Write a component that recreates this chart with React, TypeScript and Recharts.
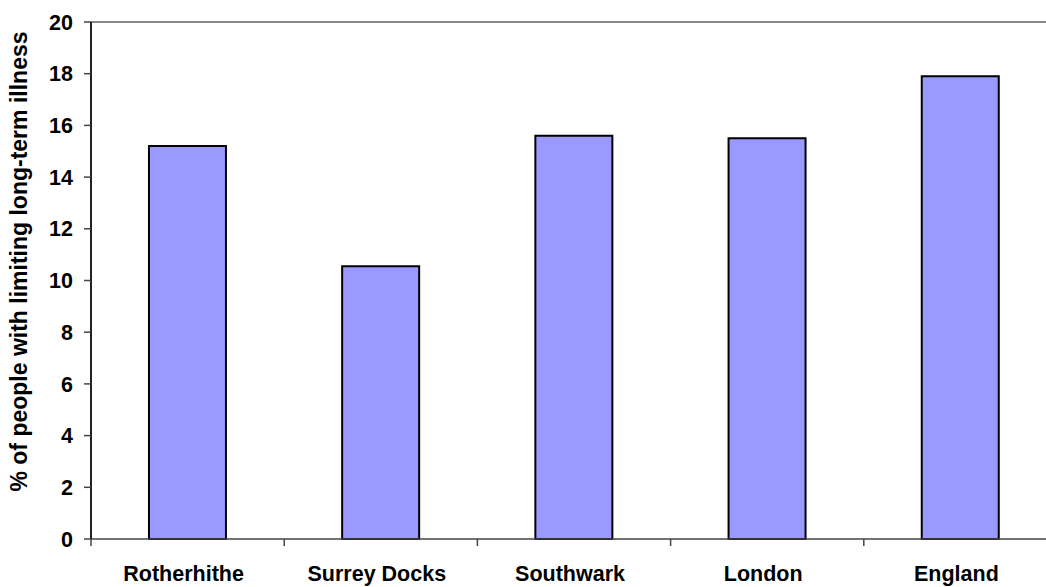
import React from 'react';
import { BarChart, Bar, XAxis, YAxis, ReferenceLine } from 'recharts';

const areas: string[] = ['Rotherhithe', 'Surrey Docks', 'Southwark', 'London', 'England'];
const illnessPct: number[] = [15.2, 10.55, 15.6, 15.5, 17.9];
const yTicks: number[] = [0, 2, 4, 6, 8, 10, 12, 14, 16, 18, 20];

const data = areas.map((name, i) => ({ name, value: illnessPct[i] }));

const FONT = 'Arial, "Liberation Sans", sans-serif';

// category label plus a tick mark on the left edge of each band
const AreaTick = (props: any) => {
    const { x, y, payload, width, visibleTicksCount } = props;
    const band = width / (visibleTicksCount || areas.length);
    const edge = x - band / 2;
    return (
        <g>
            <line x1={edge} x2={edge} y1={y - 8} y2={y - 1} stroke="#444" strokeWidth={1.5} />
            <text
                x={x - 4}
                y={y + 34}
                textAnchor="middle"
                fontFamily={FONT}
                fontWeight="bold"
                fontSize={21.5}
                fill="#000"
            >
                {payload.value}
            </text>
        </g>
    );
};

const YTitle = (props: any) => {
    const { viewBox } = props;
    const cx = 27;
    const cy = viewBox.y + viewBox.height / 2 - 19;
    return (
        <text
            x={cx}
            y={cy}
            transform={`rotate(-90, ${cx}, ${cy})`}
            textAnchor="middle"
            fontFamily={FONT}
            fontWeight="bold"
            fontSize={23}
            fill="#000"
        >
            % of people with limiting long-term illness
        </text>
    );
};

const App: React.FC = () => {
    return (
        <div
            style={{
                position: 'absolute',
                left: 0,
                top: 0,
                width: 1046,
                height: 587,
                overflow: 'hidden',
                background: '#fff',
            }}
        >
            <BarChart
                width={1070}
                height={587}
                data={data}
                margin={{ top: 22, right: 13, left: 0, bottom: 0 }}
                barCategoryGap="30%"
            >
                <XAxis
                    dataKey="name"
                    height={48}
                    axisLine={{ stroke: '#444', strokeWidth: 1.5 }}
                    tickLine={false}
                    tick={<AreaTick />}
                    interval={0}
                />
                <YAxis
                    width={91}
                    domain={[0, 20]}
                    ticks={yTicks}
                    interval={0}
                    axisLine={{ stroke: '#222', strokeWidth: 2 }}
                    tickLine={{ stroke: '#444', strokeWidth: 1.5 }}
                    tickSize={7}
                    tickMargin={11}
                    tick={{ fontFamily: FONT, fontWeight: 'bold', fontSize: 21.5, fill: '#000' }}
                    label={{ content: <YTitle /> }}
                />
                <ReferenceLine y={20} stroke="#888" strokeWidth={2} />
                <Bar dataKey="value" fill="#9999FF" stroke="#000" strokeWidth={2} isAnimationActive={false} />
            </BarChart>
        </div>
    );
};

export default App;
